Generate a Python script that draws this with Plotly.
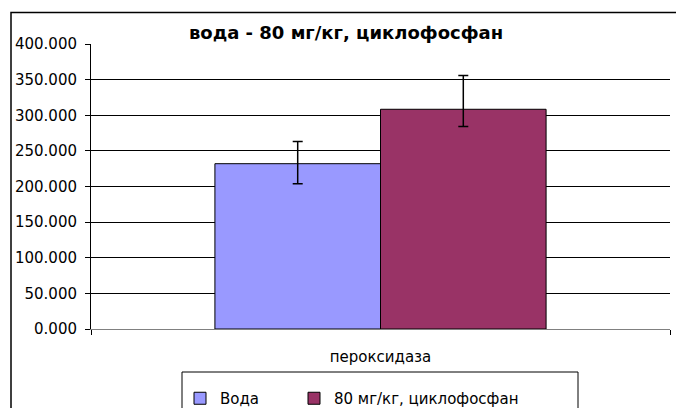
import plotly.graph_objects as go

categories = ["пероксидаза"]
series_names = ["Вода", "80 мг/кг, циклофосфан"]
values_voda = [232.0]
values_cyclo = [308.4]
err_plus_voda = [31.3]
err_minus_voda = [28.0]
err_plus_cyclo = [47.5]
err_minus_cyclo = [24.1]
y_ticks = [0, 50, 100, 150, 200, 250, 300, 350, 400]
title_text = "вода - 80 мг/кг, циклофосфан"

FONT = "'DejaVu Sans', Arial, sans-serif"
W, H = 676, 408
L, R, T, B = 91, 6, 44, 79
pw, ph = W - L - R, H - T - B

def px_x(p):
    return (p - L) / pw

def px_y(p):
    return (H - B - p) / ph

fig = go.Figure()
fig.add_trace(go.Bar(
    x=categories, y=values_voda, name=series_names[0], legend="legend",
    marker=dict(color="#9999FF", line=dict(color="#000000", width=1)),
    error_y=dict(type="data", symmetric=False, array=err_plus_voda,
                 arrayminus=err_minus_voda, color="#000000", thickness=1.5, width=5),
))
fig.add_trace(go.Bar(
    x=categories, y=values_cyclo, name=series_names[1], legend="legend2",
    marker=dict(color="#993366", line=dict(color="#000000", width=1)),
    error_y=dict(type="data", symmetric=False, array=err_plus_cyclo,
                 arrayminus=err_minus_cyclo, color="#000000", thickness=1.5, width=5),
))

leg_common = dict(orientation="h", xanchor="left", y=px_y(382), yanchor="top",
                  borderwidth=0, bgcolor="rgba(0,0,0,0)", font=dict(family=FONT, size=15),
                  itemwidth=30)

fig.update_layout(
    width=W, height=H,
    margin=dict(l=L, r=R, t=T, b=B, pad=0, autoexpand=False),
    paper_bgcolor="white", plot_bgcolor="white",
    font=dict(family=FONT, size=15, color="#000000"),
    barmode="group", bargap=0.428, bargroupgap=0,
    title=dict(text="<b>" + title_text + "</b>", x=px_x(346), xref="paper", xanchor="center",
               y=1 - 33 / H, yref="container", yanchor="middle",
               font=dict(family=FONT, size=18, color="#000000")),
    showlegend=True,
    legend=dict(x=px_x(180), **leg_common),
    legend2=dict(x=px_x(294), **leg_common),
)

fig.update_yaxes(
    range=[0, 400], tickvals=y_ticks, tickformat=".3f",
    showgrid=True, gridcolor="#000000", gridwidth=1,
    showline=True, linecolor="#000000", linewidth=1,
    ticks="outside", ticklen=5, tickcolor="#000000",
    tickfont=dict(family=FONT, size=15), zeroline=False, ticklabelstandoff=5,
)
fig.update_xaxes(
    showline=True, linecolor="#808080", linewidth=1,
    ticks="outside", tickson="boundaries", ticklen=5, tickcolor="#000000",
    tickfont=dict(family=FONT, size=15), ticklabelstandoff=14,
)

# outer chart border (extends past right/bottom of canvas as in the reference)
fig.add_shape(type="rect", xref="paper", yref="paper",
              x0=px_x(11), x1=px_x(W + 5), y0=px_y(H + 5), y1=px_y(12.5),
              line=dict(color="#000000", width=1.5), fillcolor="rgba(0,0,0,0)", layer="above")
# legend box
fig.add_shape(type="rect", xref="paper", yref="paper",
              x0=px_x(182), x1=px_x(578), y0=px_y(H + 5), y1=px_y(372),
              line=dict(color="#000000", width=1), fillcolor="rgba(0,0,0,0)", layer="above")

fig.write_html("out.html", config={"displayModeBar": False},
               post_script="document.body.style.margin='0';document.body.style.overflow='hidden';")
